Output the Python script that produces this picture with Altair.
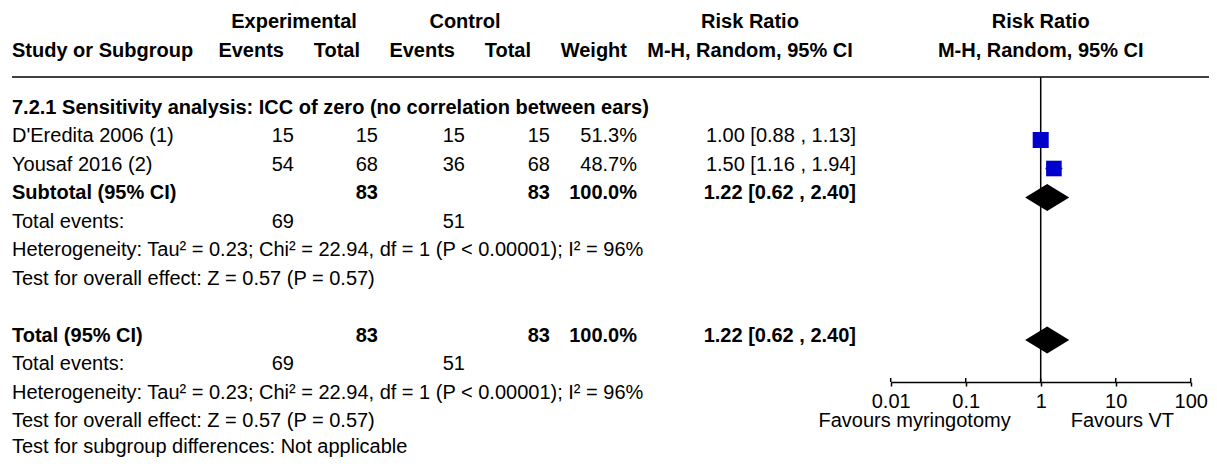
import altair as alt
import pandas as pd

# ---------------- data ----------------
studies = ["D'Eredita 2006 (1)", "Yousaf 2016 (2)"]
exp_events = [15, 54]
exp_total = [15, 68]
ctl_events = [15, 36]
ctl_total = [15, 68]
weights = [51.3, 48.7]
rr = [1.00, 1.50]
rr_lo = [0.88, 1.16]
rr_hi = [1.13, 1.94]

subgroup_title = "7.2.1 Sensitivity analysis: ICC of zero (no correlation between ears)"
pooled_rr = [1.22, 1.22]
pooled_lo = [0.62, 0.62]
pooled_hi = [2.40, 2.40]
pooled_labels = ["Subtotal (95% CI)", "Total (95% CI)"]
pooled_exp_total = [83, 83]
pooled_ctl_total = [83, 83]
pooled_weight = [100.0, 100.0]
total_exp_events = [69, 69]
total_ctl_events = [51, 51]
heterogeneity = "Heterogeneity: Tau\u00b2 = 0.23; Chi\u00b2 = 22.94, df = 1 (P < 0.00001); I\u00b2 = 96%"
overall_effect = "Test for overall effect: Z = 0.57 (P = 0.57)"
subgroup_diff = "Test for subgroup differences: Not applicable"
tick_values = [0.01, 0.1, 1, 10, 100]
favours_left = "Favours myringotomy"
favours_right = "Favours VT"

# ---------------- layout (style) ----------------
FONT = "Liberation Sans"
FS = 20
W, H = 1201, 450
ROW_Y0, ROW_H = 98.5, 28.5           # pixel y of row 0 and row pitch
yscale = alt.Scale(domain=[0, 12], range=[ROW_Y0, ROW_Y0 + 12 * ROW_H], nice=False, zero=False)
xscale = alt.Scale(type="log", domain=[0.01, 100], range=[882.7, 1182.7], nice=False)
HEADER_LINE = -1.035
AXIS_ROW = 9.667
MARK_SHIFT = 0.193
DIAMOND_HALF = 0.474

cols = {
    "study": (4, "left"),
    "e_ev": (286, "right"),
    "e_tot": (370, "right"),
    "c_ev": (457, "right"),
    "c_tot": (542, "right"),
    "weight": (629, "right"),
    "rr": (848, "right"),
    "h_exp": (286, "center"),
    "h_ctl": (457, "center"),
    "h_rr": (742, "center"),
    "h_ev1": (276, "right"),
    "h_tot1": (352, "right"),
    "h_ev2": (447, "right"),
    "h_tot2": (523, "right"),
    "h_w": (619, "right"),
}

def ci(est, lo, hi):
    return f"{est:.2f} [{lo:.2f} , {hi:.2f}]"

cells = []
def add(row, col, text, bold=False, dy=1):
    cells.append(dict(row=row, col=col, text=str(text), bold=bold, dy=dy))

# headers
add(-3, "h_exp", "Experimental", True)
add(-3, "h_ctl", "Control", True)
add(-3, "h_rr", "Risk Ratio", True)
add(-2, "study", "Study or Subgroup", True)
add(-2, "h_ev1", "Events", True)
add(-2, "h_tot1", "Total", True)
add(-2, "h_ev2", "Events", True)
add(-2, "h_tot2", "Total", True)
add(-2, "h_w", "Weight", True)
add(-2, "h_rr", "M-H, Random, 95% CI", True)

add(0, "study", subgroup_title, True)
for i, s in enumerate(studies):
    r = 1 + i
    add(r, "study", s)
    add(r, "e_ev", exp_events[i])
    add(r, "e_tot", exp_total[i])
    add(r, "c_ev", ctl_events[i])
    add(r, "c_tot", ctl_total[i])
    add(r, "weight", f"{weights[i]:.1f}%")
    add(r, "rr", ci(rr[i], rr_lo[i], rr_hi[i]))

pooled_rows = [3, 8]
for k, r in enumerate(pooled_rows):
    add(r, "study", pooled_labels[k], True)
    add(r, "e_tot", pooled_exp_total[k], True)
    add(r, "c_tot", pooled_ctl_total[k], True)
    add(r, "weight", f"{pooled_weight[k]:.1f}%", True)
    add(r, "rr", ci(pooled_rr[k], pooled_lo[k], pooled_hi[k]), True)
    add(r + 1, "study", "Total events:")
    add(r + 1, "e_ev", total_exp_events[k])
    add(r + 1, "c_ev", total_ctl_events[k])
    add(r + 2, "study", heterogeneity)
    add(r + 3, "study", overall_effect)
add(12, "study", subgroup_diff, dy=-1.5)

cells_df = pd.DataFrame(cells)

layers = []
for (col, bold, dy), sub in cells_df.groupby(["col", "bold", "dy"]):
    xpos, align = cols[col]
    layers.append(
        alt.Chart(sub).mark_text(
            align=align, baseline="middle", font=FONT, fontSize=FS,
            fontWeight="bold" if bold else "normal", color="black", dy=float(dy),
        ).encode(
            x=alt.value(xpos),
            y=alt.Y("row:Q", scale=yscale, axis=None),
            text="text:N",
        )
    )

# forest-plot headers centred on RR = 1
fp_head = pd.DataFrame({"x": [1, 1], "row": [-3, -2], "text": ["Risk Ratio", "M-H, Random, 95% CI"]})
layers.append(
    alt.Chart(fp_head).mark_text(align="center", baseline="middle", font=FONT, fontSize=FS,
                                 fontWeight="bold", color="black", dy=1)
    .encode(x=alt.X("x:Q", scale=xscale), y=alt.Y("row:Q", scale=yscale, axis=None), text="text:N")
)

# header line
layers.append(
    alt.Chart(pd.DataFrame({"row": [HEADER_LINE]})).mark_rule(color="black", strokeWidth=1.5)
    .encode(x=alt.value(4), x2=alt.value(W), y=alt.Y("row:Q", scale=yscale, axis=None))
)

# line of no effect
null_df = pd.DataFrame({"x": [1], "y1": [HEADER_LINE], "y2": [AXIS_ROW]})
layers.append(
    alt.Chart(null_df).mark_rule(color="black", strokeWidth=1.5)
    .encode(x=alt.X("x:Q", scale=xscale), y=alt.Y("y1:Q", scale=yscale, axis=None), y2="y2:Q")
)

# study CIs and squares
st_df = pd.DataFrame({"row": [1 + i for i in range(len(studies))], "rr": rr, "lo": rr_lo,
                      "hi": rr_hi, "weight": weights})
layers.append(
    alt.Chart(st_df).mark_rule(color="black", strokeWidth=1.5, yOffset=5)
    .encode(x=alt.X("lo:Q", scale=xscale), x2="hi:Q", y=alt.Y("row:Q", scale=yscale, axis=None))
)
layers.append(
    alt.Chart(st_df).mark_square(color="#0000CC", opacity=1, yOffset=5)
    .encode(
        x=alt.X("rr:Q", scale=xscale,
                axis=alt.Axis(values=tick_values, format="~g", orient="bottom", offset=AXIS_ROW * ROW_H + ROW_Y0 - H,
                              tickSize=4, tickWidth=1.5, domainWidth=1.5, domainColor="black", tickColor="black",
                              labelFont=FONT, labelFontSize=FS, labelColor="black", labelPadding=5,
                              grid=False, title=None, labelFlush=False)),
        y=alt.Y("row:Q", scale=yscale, axis=None),
        size=alt.Size("weight:Q", scale=alt.Scale(domain=[0, 100], range=[0, 500]), legend=None),
    )
)

# upper halves of axis ticks
tk_df = pd.DataFrame({"x": tick_values, "y1": [AXIS_ROW - 4 / ROW_H] * len(tick_values),
                      "y2": [AXIS_ROW] * len(tick_values)})
layers.append(
    alt.Chart(tk_df).mark_rule(color="black", strokeWidth=1.5)
    .encode(x=alt.X("x:Q", scale=xscale), y=alt.Y("y1:Q", scale=yscale, axis=None), y2="y2:Q")
)

# pooled diamonds
dia = []
for k, r in enumerate(pooled_rows):
    c = r + MARK_SHIFT
    dia += [
        dict(id=k, x=pooled_lo[k], y=c, y2=c),
        dict(id=k, x=pooled_rr[k], y=c - DIAMOND_HALF, y2=c + DIAMOND_HALF),
        dict(id=k, x=pooled_hi[k], y=c, y2=c),
    ]
layers.append(
    alt.Chart(pd.DataFrame(dia)).mark_area(color="black", opacity=1, interpolate="linear")
    .encode(x=alt.X("x:Q", scale=xscale), y=alt.Y("y:Q", scale=yscale, axis=None), y2="y2:Q",
            detail="id:N")
)

# favours labels
layers.append(
    alt.Chart(pd.DataFrame({"x": [1], "row": [11], "text": [favours_left]}))
    .mark_text(align="right", baseline="middle", font=FONT, fontSize=FS, color="black", dx=-30, dy=1)
    .encode(x=alt.X("x:Q", scale=xscale), y=alt.Y("row:Q", scale=yscale, axis=None), text="text:N")
)
layers.append(
    alt.Chart(pd.DataFrame({"x": [1], "row": [11], "text": [favours_right]}))
    .mark_text(align="left", baseline="middle", font=FONT, fontSize=FS, color="black", dx=30, dy=1)
    .encode(x=alt.X("x:Q", scale=xscale), y=alt.Y("row:Q", scale=yscale, axis=None), text="text:N")
)

chart = alt.layer(*layers).properties(
    width=W, height=H, autosize=alt.AutoSizeParams(type="none"), padding=0, background="white"
).configure_view(stroke=None)

chart.save("out.html", embed_options={"renderer": "svg", "actions": False})
